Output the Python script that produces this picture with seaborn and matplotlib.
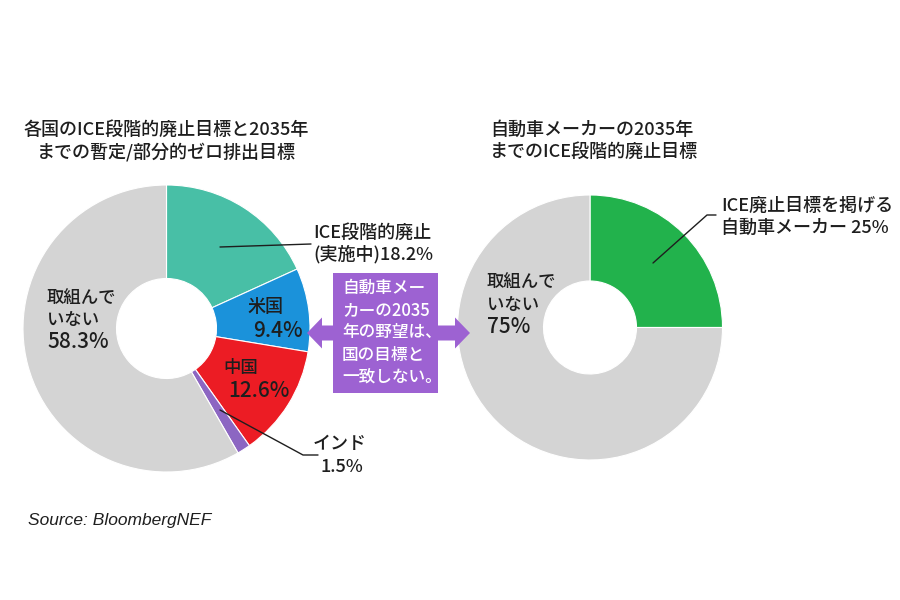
import numpy as np
import matplotlib
matplotlib.use('Agg')
import matplotlib.pyplot as plt
import seaborn as sns
from matplotlib.patches import FancyArrow, Rectangle

# data
country_labels = ['ICE段階的廃止(実施中)', '米国', '中国', 'インド', '取組んでいない']
country_share = [18.2, 9.4, 12.6, 1.5, 58.3]
maker_labels = ['ICE廃止目標を掲げる自動車メーカー', '取組んでいない']
maker_share = [25, 75]

country_colors = ['#48BFA6', '#1B92DA', '#EC1C24', '#8C66C2', '#D4D4D4']
maker_colors = ['#22B24C', '#D4D4D4']
box_purple = '#9D62D2'
ink = '#1E1E1E'

sns.set_theme(style='white')
plt.rcParams['font.family'] = ['Noto Sans CJK JP', 'DejaVu Sans']
plt.rcParams['font.weight'] = 'medium'

fig = plt.figure(figsize=(9, 6), dpi=100)
ax = fig.add_axes([0, 0, 1, 1])

# y axis is inverted so one data unit = one pixel from the top-left;
# startangle -90 with counterclock=True reads as 12 o'clock, clockwise
ax.pie(country_share, colors=country_colors, startangle=-90, counterclock=True,
       center=(166.5, 328.5), radius=143.5,
       wedgeprops=dict(width=93.5, edgecolor='white', linewidth=0.8))
ax.pie(maker_share, colors=maker_colors, startangle=-90, counterclock=True,
       center=(590, 327.5), radius=132.5,
       wedgeprops=dict(width=86, edgecolor='white', linewidth=0.8))

ax.set_xlim(0, 900)
ax.set_ylim(600, 0)
ax.set_aspect('equal')
ax.axis('off')

fs = 13      # titles / outside labels
fs_in = 12.5  # japanese text inside donuts
fs_pct = 15   # percentages inside donuts

# titles
ax.text(166, 130, '各国のICE段階的廃止目標と2035年', ha='center', va='center', fontsize=fs, color=ink)
ax.text(166, 152, 'までの暫定/部分的ゼロ排出目標', ha='center', va='center', fontsize=fs, color=ink)
ax.text(490, 130, '自動車メーカーの2035年', ha='left', va='center', fontsize=fs, color=ink)
ax.text(490, 152, 'までのICE段階的廃止目標', ha='left', va='center', fontsize=fs, color=ink)

# left donut labels
ax.plot([220, 311], [247, 244], color=ink, lw=1)
ax.text(313, 233, 'ICE段階的廃止', ha='left', va='center', fontsize=fs, color=ink)
ax.text(313, 254, f'(実施中){country_share[0]}%', ha='left', va='center', fontsize=fs, color=ink)

ax.text(247, 307, country_labels[1], ha='left', va='center', fontsize=fs, color=ink)
ax.text(253, 331, f'{country_share[1]}%', ha='left', va='center', fontsize=fs_pct, color=ink)

ax.text(223, 368, country_labels[2], ha='left', va='center', fontsize=fs_in, color=ink)
ax.text(228, 391, f'{country_share[2]}%', ha='left', va='center', fontsize=fs_pct, color=ink)

ax.plot([220, 303, 318], [410, 455, 455], color=ink, lw=1)
ax.text(313, 444, country_labels[3], ha='left', va='center', fontsize=fs, color=ink)
ax.text(320, 467, f'{country_share[3]}%', ha='left', va='center', fontsize=fs, color=ink)

ax.text(47, 298, '取組んで', ha='left', va='center', fontsize=fs_in, color=ink)
ax.text(47, 320, 'いない', ha='left', va='center', fontsize=fs_in, color=ink)
ax.text(47, 342, f'{country_share[4]}%', ha='left', va='center', fontsize=fs_pct, color=ink)

# right donut labels
ax.plot([653, 707, 716], [263, 215, 215], color=ink, lw=1)
ax.text(721, 206, 'ICE廃止目標を掲げる', ha='left', va='center', fontsize=fs, color=ink)
ax.text(721, 228, f'自動車メーカー {maker_share[0]}%', ha='left', va='center', fontsize=fs, color=ink)

ax.text(487, 282, '取組んで', ha='left', va='center', fontsize=fs_in, color=ink)
ax.text(487, 305, 'いない', ha='left', va='center', fontsize=fs_in, color=ink)
ax.text(487, 327, f'{maker_share[1]}%', ha='left', va='center', fontsize=fs_pct, color=ink)

# double arrow + purple callout box
for tip in (307, 470):
    ax.add_patch(FancyArrow(388, 333, tip - 388, 0, width=15, head_width=31,
                            head_length=15, length_includes_head=True,
                            color=box_purple, lw=0, zorder=3))
ax.add_patch(Rectangle((333, 273), 105, 120, facecolor=box_purple, edgecolor='none', zorder=4))
box_lines = ['自動車メー', 'カーの2035', '年の野望は、', '国の目標と', '一致しない。']
for i, line in enumerate(box_lines):
    ax.text(342, 288 + i * 22.2, line, ha='left', va='center', fontsize=12,
            color='white', zorder=5)

ax.text(28, 520, 'Source: BloombergNEF', ha='left', va='center', fontsize=12.5,
        style='italic', fontweight='normal', family=['Liberation Sans', 'DejaVu Sans'], color=ink)

fig.savefig('out.png', dpi=100, facecolor='white')
